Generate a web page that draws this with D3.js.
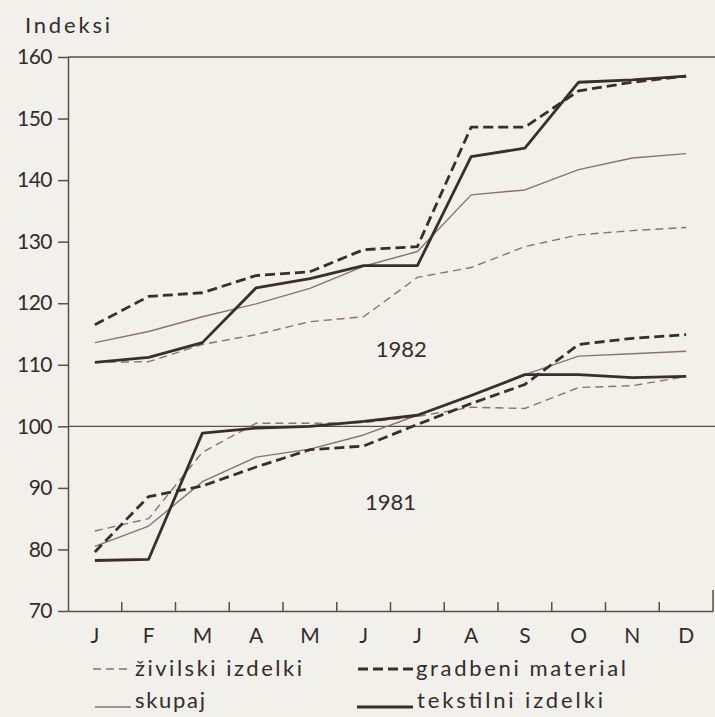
<!DOCTYPE html>
<html>
<head>
<meta charset="utf-8">
<script src="https://cdn.jsdelivr.net/npm/d3@7"></script>
<style>
  html, body { margin: 0; padding: 0; background: #f2f0ea; }
  svg { display: block; }
  text { font-family: Lato, "Open Sans", sans-serif; fill: #342c2c; }
</style>
</head>
<body>
<svg id="chart" width="715" height="717"></svg>
<script>
// ---- data ----
const months = ["J", "F", "M", "A", "M", "J", "J", "A", "S", "O", "N", "D"];
const yTicks = [70, 80, 90, 100, 110, 120, 130, 140, 150, 160];
const yAxisTitle = "Indeksi";
const yearLabels = ["1982", "1981"];
const seriesNames = ["živilski izdelki", "gradbeni material", "skupaj", "tekstilni izdelki"];

// 1982
const zivilski1982  = [110.4, 110.5, 113.3, 114.9, 117.0, 117.8, 124.2, 125.8, 129.2, 131.1, 131.8, 132.3];
const gradbeni1982  = [116.5, 121.1, 121.7, 124.5, 125.1, 128.7, 129.2, 148.6, 148.6, 154.5, 155.9, 156.9];
const skupaj1982    = [113.6, 115.4, 117.8, 119.9, 122.4, 126.0, 128.4, 137.6, 138.4, 141.7, 143.6, 144.3];
const tekstilni1982 = [110.4, 111.2, 113.6, 122.5, 124.0, 126.1, 126.1, 143.8, 145.2, 155.9, 156.3, 156.9];

// 1981
const zivilski1981  = [83.0, 85.0, 95.8, 100.5, 100.5, 100.6, 101.6, 103.1, 102.9, 106.3, 106.6, 108.1];
const gradbeni1981  = [79.6, 88.6, 90.3, 93.4, 96.2, 96.8, 100.3, 103.7, 106.8, 113.3, 114.3, 114.9];
const skupaj1981    = [80.5, 83.8, 91.0, 95.0, 96.3, 98.6, 101.8, 104.9, 108.4, 111.4, 111.8, 112.2];
const tekstilni1981 = [78.2, 78.4, 98.9, 99.7, 100.0, 100.8, 101.8, 105.0, 108.4, 108.4, 107.9, 108.1];

// ---- styles ----
const dark = "#3a2d2d", light = "#8a7272", axisCol = "#5e4b4b";
const styles = [
  { color: light, width: 1.4, dash: "8,5" },   // živilski
  { color: dark,  width: 2.8, dash: "10,5" },  // gradbeni
  { color: light, width: 1.4, dash: null },    // skupaj
  { color: dark,  width: 2.8, dash: null }     // tekstilni
];

const svg = d3.select("#chart");
const W = 715, H = 717;
svg.append("rect").attr("width", W).attr("height", H).attr("fill", "#f2f0ea");

const idx = d3.range(months.length);
const x = d3.scaleBand().domain(idx).range([68, 713]).padding(0);
const y = d3.scaleLinear().domain([70, 160]).range([611, 57]);
const cx = i => x(i) + x.bandwidth() / 2;

// reference lines at 160 and 100
[160, 100].forEach(v => {
  svg.append("line").attr("x1", 68).attr("x2", W).attr("y1", y(v)).attr("y2", y(v))
    .attr("stroke", axisCol).attr("stroke-width", 1.4);
});

// y axis
const yAxis = svg.append("g").attr("transform", "translate(68,0)")
  .call(d3.axisLeft(y).tickValues(yTicks).tickSize(10).tickPadding(6).tickSizeOuter(0));
yAxis.select(".domain").attr("stroke", axisCol).attr("stroke-width", 1.5);
yAxis.selectAll(".tick line").attr("stroke", axisCol).attr("stroke-width", 1.5);
yAxis.selectAll(".tick text").attr("font-size", 21).attr("font-family", "Lato, sans-serif")
  .attr("fill", "#342c2c").attr("letter-spacing", -0.5);

// x axis
const xAxis = svg.append("g").attr("transform", "translate(0,611)")
  .call(d3.axisBottom(x).tickFormat(i => months[i]).tickSize(0).tickPadding(17).tickSizeOuter(0));
xAxis.select(".domain").attr("stroke", axisCol).attr("stroke-width", 1.5);
xAxis.selectAll(".tick text").attr("font-size", 21).attr("font-family", "Lato, sans-serif")
  .attr("fill", "#342c2c");
// boundary ticks between months (pointing up)
svg.append("g").selectAll("line").data(idx.slice(1)).join("line")
  .attr("x1", i => x(i)).attr("x2", i => x(i)).attr("y1", 602).attr("y2", 611)
  .attr("stroke", axisCol).attr("stroke-width", 1.5);
// right edge
svg.append("line").attr("x1", x.range()[1]).attr("x2", x.range()[1]).attr("y1", 590).attr("y2", 611)
  .attr("stroke", axisCol).attr("stroke-width", 1.5);

// axis title
svg.append("text").attr("x", 25).attr("y", 33).attr("font-size", 22)
  .attr("textLength", 85).attr("lengthAdjust", "spacing").text(yAxisTitle);

// lines
const line = d3.line().x((d, i) => cx(i)).y(d => y(d));
const allSeries = [
  [zivilski1982, 0], [skupaj1982, 2], [gradbeni1982, 1], [tekstilni1982, 3],
  [zivilski1981, 0], [skupaj1981, 2], [gradbeni1981, 1], [tekstilni1981, 3]
];
allSeries.forEach(([vals, s]) => {
  const st = styles[s];
  svg.append("path").datum(vals).attr("d", line)
    .attr("fill", "none").attr("stroke", st.color).attr("stroke-width", st.width)
    .attr("stroke-linejoin", "round")
    .attr("stroke-dasharray", st.dash);
});

// year labels
svg.append("text").attr("x", x(5) + x.bandwidth() * 1.2).attr("y", y(111.3))
  .attr("text-anchor", "middle").attr("font-size", 22).text(yearLabels[0]);
svg.append("text").attr("x", x(5) + x.bandwidth() * 1.0).attr("y", y(86.4))
  .attr("text-anchor", "middle").attr("font-size", 22).text(yearLabels[1]);

// legend
const legendPos = [
  { lx1: 93, lx2: 131, ly: 669, tx: 135, ty: 676, tl: 167 },
  { lx1: 358, lx2: 413, ly: 669, tx: 416, ty: 676, tl: 210 },
  { lx1: 95, lx2: 131, ly: 707, tx: 135, ty: 708, tl: 70 },
  { lx1: 357, lx2: 413, ly: 707, tx: 417, ty: 708, tl: 186 }
];
seriesNames.forEach((name, s) => {
  const p = legendPos[s], st = styles[s];
  svg.append("line").attr("x1", p.lx1).attr("x2", p.lx2).attr("y1", p.ly).attr("y2", p.ly)
    .attr("stroke", st.color).attr("stroke-width", st.width).attr("stroke-dasharray", st.dash);
  svg.append("text").attr("x", p.tx).attr("y", p.ty).attr("font-size", 22)
    .attr("textLength", p.tl).attr("lengthAdjust", "spacing").text(name);
});
</script>
</body>
</html>
